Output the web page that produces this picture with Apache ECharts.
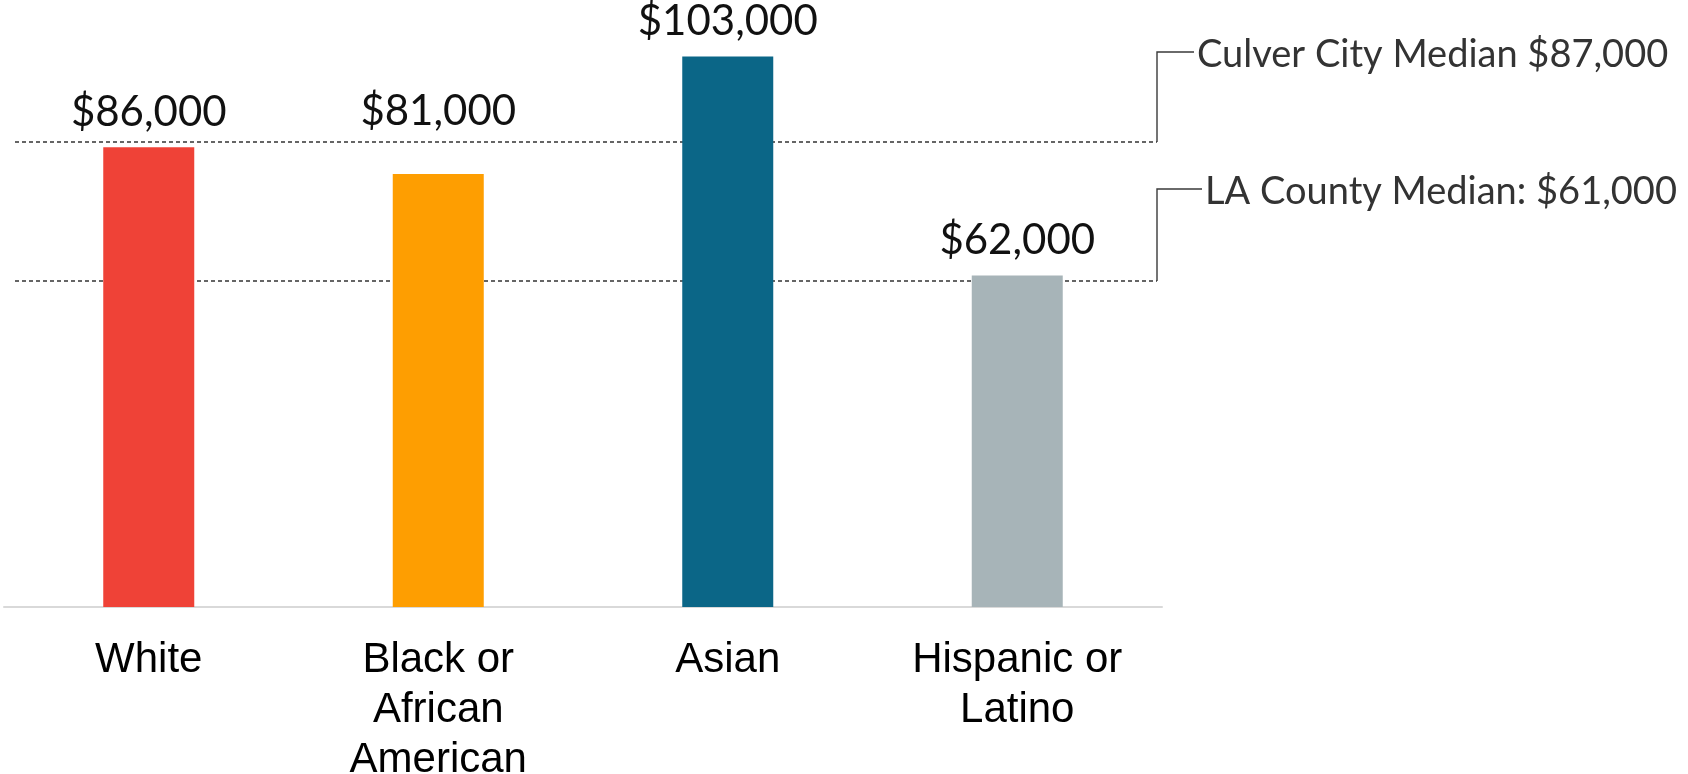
<!DOCTYPE html>
<html>
<head>
<meta charset="utf-8">
<script src="https://cdn.jsdelivr.net/npm/echarts@6/dist/echarts.min.js"></script>
<style>
  html, body { margin: 0; padding: 0; background: #ffffff; }
  #chart { width: 1688px; height: 774px; }
</style>
</head>
<body>
<div id="chart"></div>
<script>
// Median household income by race / ethnicity
const categories = ['White', 'Black or\nAfrican\nAmerican', 'Asian', 'Hispanic or\nLatino'];
const medianIncome = [86000, 81000, 103000, 62000];
const barColors = ['#EF4237', '#FE9E01', '#0B6687', '#A7B4B8'];
// Extra lift for a value label that would otherwise sit on a median line
const labelLift = [0, 28, 0, 0];

// Reference medians drawn as dashed lines with callout labels
const refNames = ['Culver City Median $87,000', 'LA County Median: $61,000'];
const refValues = [87000, 61000];

const chart = echarts.init(document.getElementById('chart'));

const fmtMoney = v => '$' + v.toLocaleString('en-US');

chart.setOption({
  animation: false,
  backgroundColor: '#ffffff',
  grid: { left: 4, right: 526, top: 19, bottom: 167, containLabel: false, outerBoundsMode: 'none' },
  xAxis: {
    type: 'category',
    data: categories,
    axisLine: { show: true, lineStyle: { color: '#D9D9D9', width: 2 } },
    axisTick: { show: false },
    axisLabel: {
      color: '#000000',
      fontFamily: '"Liberation Sans", Arial, sans-serif',
      fontSize: 42,
      lineHeight: 50,
      margin: 28,
      interval: 0
    }
  },
  yAxis: {
    type: 'value',
    min: 0,
    max: 110000,
    show: false,
    splitLine: { show: false }
  },
  series: [{
    type: 'bar',
    barWidth: 91,
    data: medianIncome.map((v, i) => ({
      value: v,
      itemStyle: { color: barColors[i] },
      label: { distance: 14 + labelLift[i] }
    })),
    label: {
      show: true,
      position: 'top',
      distance: 14,
      color: '#111111',
      fontFamily: 'Lato, sans-serif',
      fontSize: 42,
      formatter: p => fmtMoney(p.value)
    }
  }]
});

// Dashed median lines with elbow connectors to their labels
function drawReferences() {
  const lineLeft = 15;
  const lineRight = 1157;
  const elbowY = [52, 189];
  const labelX = [1197, 1205];
  const elements = [];
  refValues.forEach((v, i) => {
    const y = chart.convertToPixel({ yAxisIndex: 0 }, v);
    elements.push({
      type: 'line',
      shape: { x1: lineLeft, y1: y, x2: lineRight, y2: y },
      style: { stroke: '#333333', lineWidth: 1.5, lineDash: [4, 3] },
      silent: true
    });
    elements.push({
      type: 'polyline',
      shape: { points: [[lineRight, y], [lineRight, elbowY[i]], [labelX[i] - 3, elbowY[i]]] },
      style: { stroke: '#3A3A3A', lineWidth: 1.4, fill: null },
      silent: true
    });
    elements.push({
      type: 'text',
      x: labelX[i],
      y: elbowY[i] + 3,
      style: {
        text: refNames[i],
        fill: '#333333',
        font: '38px Lato, sans-serif',
        textAlign: 'left',
        textVerticalAlign: 'middle'
      },
      silent: true
    });
  });
  chart.setOption({ graphic: elements });
}
drawReferences();
</script>
</body>
</html>
